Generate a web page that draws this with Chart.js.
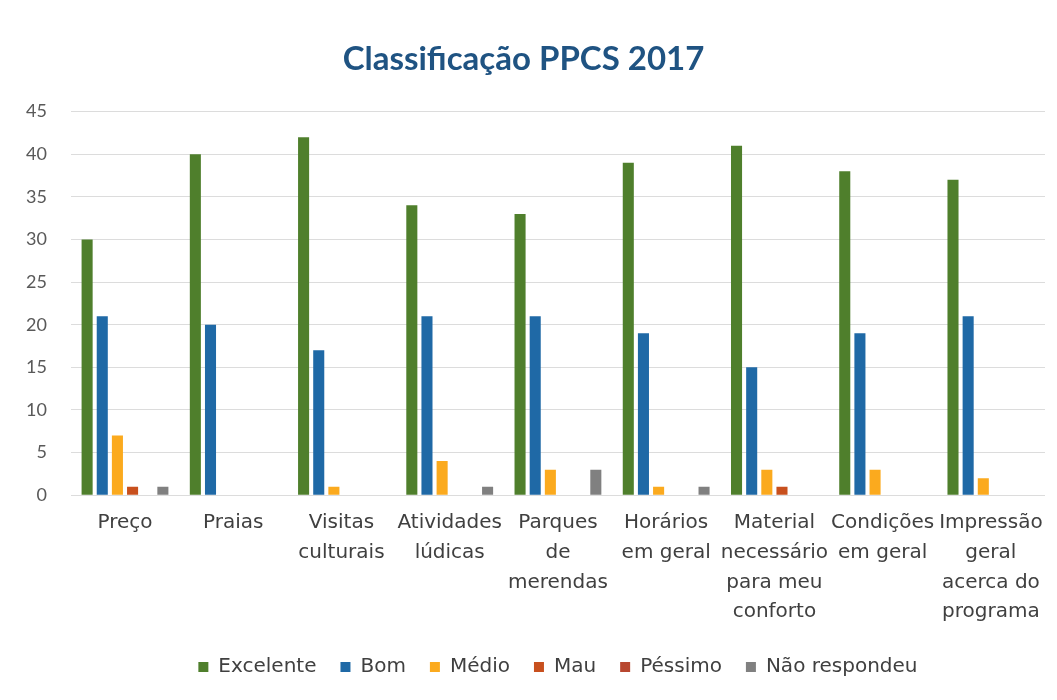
<!DOCTYPE html>
<html>
<head>
<meta charset="utf-8">
<script src="https://cdn.jsdelivr.net/npm/chart.js@4.4.1/dist/chart.umd.min.js"></script>
<style>
  body { margin: 0; background: #fff; }
  #wrap { width: 1057px; height: 700px; }
</style>
</head>
<body>
<div id="wrap"><canvas id="ppcs"></canvas></div>
<script>
var categorias = [
    "Preço",
    "Praias",
    ["Visitas", "culturais"],
    ["Atividades", "lúdicas"],
    ["Parques", "de", "merendas"],
    ["Horários", "em geral"],
    ["Material", "necessário", "para meu", "conforto"],
    ["Condições", "em geral"],
    ["Impressão", "geral", "acerca do", "programa"]
];
var excelente = [30, 40, 42, 34, 33, 39, 41, 38, 37];
var bom = [21, 20, 17, 21, 21, 19, 15, 19, 21];
var medio = [7, 0, 1, 4, 3, 1, 3, 3, 2];
var mau = [1, 0, 0, 0, 0, 0, 1, 0, 0];
var pessimo = [0, 0, 0, 0, 0, 0, 0, 0, 0];
var naoRespondeu = [1, 0, 0, 1, 3, 1, 0, 0, 0];

var ctx = document.getElementById("ppcs");
new Chart(ctx, {
    type: 'bar',
    data: {
        labels: categorias,
        datasets: [
            { label: "Excelente", data: excelente, backgroundColor: "#4F7F2C" },
            { label: "Bom", data: bom, backgroundColor: "#1F69A6" },
            { label: "Médio", data: medio, backgroundColor: "#FBAA1E" },
            { label: "Mau", data: mau, backgroundColor: "#C8501E" },
            { label: "Péssimo", data: pessimo, backgroundColor: "#B8472F" },
            { label: "Não respondeu", data: naoRespondeu, backgroundColor: "#808080" }
        ]
    },
    options: {
        responsive: true,
        maintainAspectRatio: false,
        animation: false,
        datasets: {
            bar: { categoryPercentage: 0.84, barPercentage: 0.73 }
        },
        layout: { padding: { left: 2, right: 12, top: 40, bottom: 13 } },
        plugins: {
            title: {
                display: true,
                text: "Classificação PPCS 2017",
                color: "#1F5382",
                font: { family: "Lato", size: 33, weight: "bold" },
                padding: { top: 0, bottom: 32 }
            },
            legend: {
                position: 'bottom',
                fullSize: false,
                labels: {
                    boxWidth: 10,
                    boxHeight: 10,
                    padding: 24,
                    color: "#404040",
                    font: { family: "DejaVu Sans", size: 20 }
                }
            },
            tooltip: { enabled: false }
        },
        scales: {
            x: {
                grid: { display: false, drawTicks: false },
                border: { display: false },
                ticks: {
                    color: "#404040",
                    font: { family: "DejaVu Sans", size: 20, lineHeight: 1.485 },
                    maxRotation: 0,
                    autoSkip: false,
                    padding: 13
                },
                // labels may run a little into the space above the legend
                afterFit: function(scale) { scale.height -= 7; }
            },
            y: {
                min: 0,
                max: 45,
                border: { display: false },
                grid: { color: "#DCDCDC", drawTicks: false },
                ticks: {
                    stepSize: 5,
                    color: "#595959",
                    font: { family: "Lato", size: 18 },
                    padding: 24
                }
            }
        }
    }
});
</script>
</body>
</html>
